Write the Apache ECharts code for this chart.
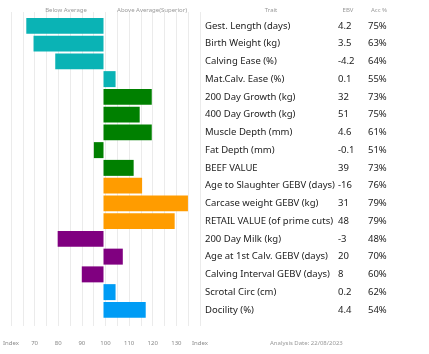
<!DOCTYPE html>
<html><head><meta charset="utf-8">
<script src="https://cdn.jsdelivr.net/npm/echarts@6/dist/echarts.min.js"></script>
<style>html,body{margin:0;padding:0;background:#fff}#c{width:429px;height:354px}</style>
</head><body><div id="c"></div>
<script>
const traits = ['Gest. Length (days)','Birth Weight (kg)','Calving Ease (%)','Mat.Calv. Ease (%)','200 Day Growth (kg)','400 Day Growth (kg)','Muscle Depth (mm)','Fat Depth (mm)','BEEF VALUE','Age to Slaughter GEBV (days)','Carcase weight GEBV (kg)','RETAIL VALUE (of prime cuts)','200 Day Milk (kg)','Age at 1st Calv. GEBV (days)','Calving Interval GEBV (days)','Scrotal Circ (cm)','Docility (%)'];
const indexValues = [68,71,80,105,120,115,120,96,112.5,116,135,129.5,81,108,91,105,117.5];
const ebv = ['4.2','3.5','-4.2','0.1','32','51','4.6','-0.1','39','-16','31','48','-3','20','8','0.2','4.4'];
const acc = ['75%','63%','64%','55%','73%','75%','61%','51%','73%','76%','79%','79%','48%','70%','60%','62%','54%'];
const groups = [0,0,0,0,1,1,1,1,1,2,2,2,3,3,3,4,4];
const tickLabels = ['Index','70','80','90','100','110','120','130','Index'];
const axisMin = 60, axisMax = 140, baseIndex = 100;

const palette = ['#0ab3b5','#008000','#ff9c00','#800080','#009cf5'];
const font = 'Noto Sans';
const chart = echarts.init(document.getElementById('c'), null, {renderer:'canvas'});
chart.setOption({
  animation:false,
  grid:[
    {left:7, top:17, width:193, height:301.75},
    {left:7, top:12, width:193, height:314}
  ],
  xAxis:[
    {gridIndex:0, type:'value', min:axisMin-baseIndex, max:axisMax-baseIndex, show:false},
    {gridIndex:1, type:'value', min:axisMin-baseIndex, max:axisMax-baseIndex, interval:10,
     axisLine:{show:false}, axisTick:{show:false},
     splitLine:{show:true, lineStyle:{color:'#ebebeb', width:1}},
     minorTick:{show:false, splitNumber:2},
     minorSplitLine:{show:true, lineStyle:{color:'#ebebeb', width:1}},
     axisLabel:{margin:14, fontSize:6, color:'#888', fontFamily:font,
       formatter:(v)=>tickLabels[Math.round((v-(axisMin-baseIndex))/10)]}}
  ],
  yAxis:[
    {gridIndex:0, type:'category', data:traits, inverse:true, show:false},
    {gridIndex:0, type:'category', data:traits, inverse:true, position:'right',
     axisLine:{show:false}, axisTick:{show:false}, splitLine:{show:false},
     axisLabel:{show:true, margin:5, align:'left',
       formatter:(v, i)=>'{t|'+v+'}{e|'+ebv[i]+'}{a|'+acc[i]+'}',
       rich:{
         t:{width:133, fontSize:9.5, color:'#222', fontFamily:font},
         e:{width:30, fontSize:9.5, color:'#222', fontFamily:font},
         a:{width:30, fontSize:9.5, color:'#222', fontFamily:font}
       }}},
    {gridIndex:1, type:'value', min:0, max:1, show:false}
  ],
  series:[
    {type:'bar', xAxisIndex:0, yAxisIndex:0, barWidth:'90%',
     data:indexValues.map((v,i)=>({value:v-baseIndex, itemStyle:{color:palette[groups[i]]}}))}
  ],
  graphic:[
    {type:'text', left:66, top:10, style:{text:'Below Average', fill:'#999', font:'6px "'+font+'"', textAlign:'center', textVerticalAlign:'middle'}, x:66, y:10},
  ]
});
// header texts via graphic
chart.setOption({graphic:[
  {type:'text', x:66, y:10, style:{text:'Below Average', fill:'#999', font:'6px "'+font+'"', align:'center', verticalAlign:'middle'}},
  {type:'text', x:152, y:10, style:{text:'Above Average(Superior)', fill:'#999', font:'6px "'+font+'"', align:'center', verticalAlign:'middle'}},
  {type:'text', x:271, y:10, style:{text:'Trait', fill:'#999', font:'6px "'+font+'"', align:'center', verticalAlign:'middle'}},
  {type:'text', x:348, y:10, style:{text:'EBV', fill:'#999', font:'6px "'+font+'"', align:'center', verticalAlign:'middle'}},
  {type:'text', x:379, y:10, style:{text:'Acc %', fill:'#999', font:'6px "'+font+'"', align:'center', verticalAlign:'middle'}},
  {type:'text', x:270, y:343, style:{text:'Analysis Date: 22/08/2023', fill:'#999', font:'6px "'+font+'"', align:'left', verticalAlign:'middle'}}
]}, {replaceMerge:['graphic']});
</script></body></html>
